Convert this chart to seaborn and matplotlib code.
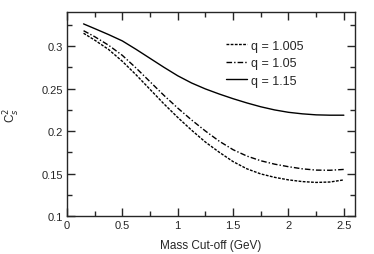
import numpy as np
import pandas as pd
import matplotlib
matplotlib.use("Agg")
import matplotlib.pyplot as plt
import seaborn as sns
from matplotlib.ticker import MultipleLocator

mass_cut = [0.15, 0.25, 0.375, 0.5, 0.625, 0.75, 0.875, 1.0, 1.125, 1.25,
            1.375, 1.5, 1.625, 1.75, 1.875, 2.0, 2.125, 2.25, 2.375, 2.5]
cs2_q1005 = [0.315, 0.307, 0.296, 0.282, 0.266, 0.249, 0.232, 0.216, 0.201, 0.187,
             0.175, 0.164, 0.1555, 0.1495, 0.1455, 0.1425, 0.1405, 0.1395, 0.1400, 0.1425]
cs2_q105 = [0.318, 0.311, 0.301, 0.289, 0.274, 0.258, 0.242, 0.227, 0.213, 0.200,
            0.188, 0.178, 0.1705, 0.165, 0.161, 0.158, 0.1555, 0.154, 0.1538, 0.1548]
cs2_q115 = [0.326, 0.3205, 0.3135, 0.306, 0.296, 0.2855, 0.275, 0.265, 0.2565, 0.2495,
            0.2435, 0.238, 0.233, 0.2285, 0.2248, 0.222, 0.2202, 0.219, 0.2186, 0.2186]
labels = ["q = 1.005", "q = 1.05", "q = 1.15"]

n = len(mass_cut)
df = pd.DataFrame({
    "mass": mass_cut * 3,
    "cs2": cs2_q1005 + cs2_q105 + cs2_q115,
    "q": [labels[0]] * n + [labels[1]] * n + [labels[2]] * n,
})

sns.set_style("ticks")
plt.rcParams["font.family"] = ["Liberation Sans", "DejaVu Sans"]

fig = plt.figure(figsize=(3.74, 2.55), dpi=100)
ax = fig.add_axes([0.179, 0.149, 0.770, 0.800])

styles = {labels[0]: (0, (2, 1)), labels[1]: (0, (4, 1.5, 1, 1.5)), labels[2]: "-"}
for lab in labels:
    sub = df[df["q"] == lab]
    sns.lineplot(data=sub, x="mass", y="cs2", ax=ax, color="black",
                 linestyle=styles[lab], linewidth=1.0, label=lab)

ax.set_xlim(0, 2.6)
ax.set_ylim(0.1, 0.34)
ax.xaxis.set_minor_locator(MultipleLocator(0.25))
ax.yaxis.set_minor_locator(MultipleLocator(0.025))
ax.set_xticks([0, 0.5, 1, 1.5, 2, 2.5])
ax.set_xticklabels(["0", "0.5", "1", "1.5", "2", "2.5"])
ax.set_yticks([0.1, 0.15, 0.2, 0.25, 0.3])
ax.set_yticklabels(["0.1", "0.15", "0.2", "0.25", "0.3"])
ax.tick_params(which="both", direction="in", top=True, right=True, labelsize=8, width=1)
ax.tick_params(which="major", length=6, pad=3)
ax.tick_params(which="minor", length=3.5)
for s in ax.spines.values():
    s.set_linewidth(1)

ax.set_xlabel("Mass Cut-off (GeV)", fontsize=8.5, labelpad=6)
ax.set_ylabel("C$_s^2$", fontsize=8.5, labelpad=14)

ax.legend(loc="upper left", bbox_to_anchor=(0.553, 0.865), frameon=False, fontsize=9,
          handlelength=1.7, handletextpad=0.3, labelspacing=0.45,
          borderpad=0, borderaxespad=0)

fig.savefig("out.png", dpi=100)
